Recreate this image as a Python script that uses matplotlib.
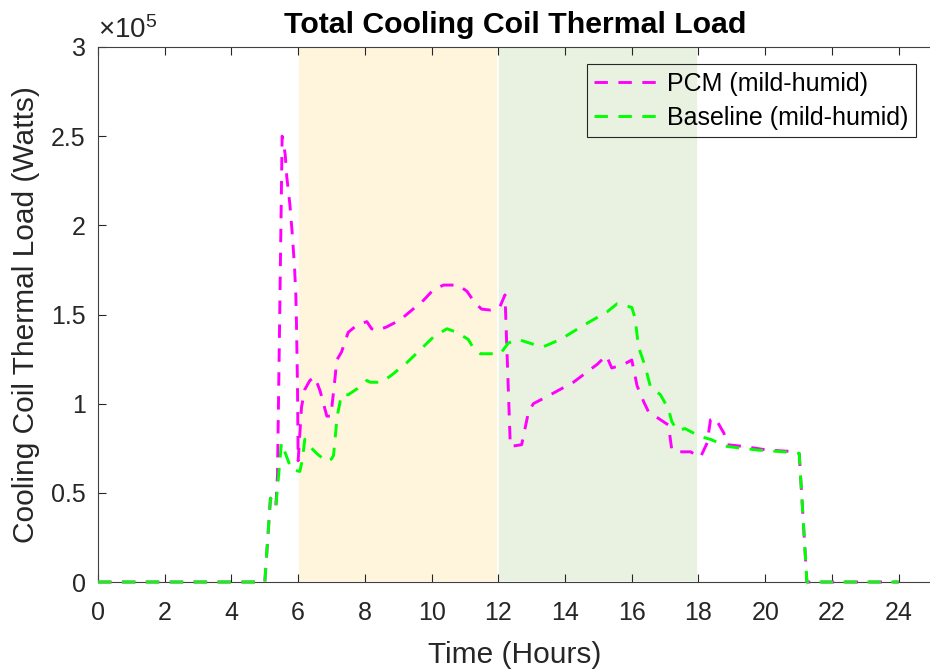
import matplotlib
matplotlib.use("Agg")
import matplotlib.pyplot as plt
from matplotlib.ticker import FuncFormatter, MultipleLocator

plt.rcParams['font.family'] = ['Liberation Sans', 'DejaVu Sans']
plt.rcParams['mathtext.fontset'] = 'custom'
plt.rcParams['mathtext.rm'] = 'Liberation Sans'
plt.rcParams['mathtext.it'] = 'Liberation Sans'

# ---- data (hours, load in units of 1e5 W) ----
pcm_t = [0, 5.0, 5.17, 5.33, 5.38, 5.44, 5.52, 5.61, 5.66, 5.75, 5.82, 5.89, 5.93, 5.95,
         5.98, 6.0, 6.1, 6.2, 6.35, 6.5, 6.66, 6.86, 6.98, 7.08, 7.16, 7.3, 7.5, 7.76,
         8.06, 8.2, 8.35, 8.65, 9.06, 9.41, 9.76, 10.06, 10.36, 10.8, 11.06, 11.3, 11.5,
         11.76, 12.04, 12.2, 12.36, 12.7, 12.9, 13.05, 13.56, 14.25, 14.96, 15.24, 15.4,
         15.76, 16.0, 16.16, 16.36, 16.5, 16.86, 17.1, 17.2, 17.36, 17.76, 18.06, 18.26,
         18.36, 18.5, 18.76, 18.86, 19.36, 20.06, 20.96, 21.02, 21.25, 24.0]
pcm_v = [0, 0, 0.47, 0.42, 0.60, 1.40, 2.50, 2.40, 2.27, 2.12, 1.96, 1.77, 1.61, 1.45,
         1.10, 0.68, 0.98, 1.08, 1.13, 1.15, 1.07, 0.93, 0.93, 1.10, 1.245, 1.29, 1.40, 1.44,
         1.46, 1.42, 1.41, 1.43, 1.47, 1.525, 1.58, 1.64, 1.665, 1.665, 1.63, 1.565, 1.53,
         1.525, 1.54, 1.61, 0.76, 0.77, 0.95, 1.00, 1.05, 1.12, 1.22, 1.27, 1.20,
         1.22, 1.245, 1.10, 1.01, 0.955, 0.91, 0.88, 0.74, 0.73, 0.73, 0.70, 0.78,
         0.91, 0.92, 0.835, 0.77, 0.76, 0.74, 0.73, 0.72, 0, 0]

base_t = [0, 5.0, 5.17, 5.33, 5.5, 5.8, 6.05, 6.12, 6.2, 6.35, 6.56, 6.86, 7.0, 7.06, 7.12,
          7.17, 7.3, 7.5, 7.9, 8.06, 8.16, 8.5, 8.8, 9.26, 10.06, 10.46, 10.76, 11.1, 11.26,
          11.46, 12.06, 12.3, 12.6, 13.1, 13.36, 13.86, 14.56, 15.26, 15.56, 16.0, 16.1,
          16.2, 16.4, 16.56, 16.86, 17.1, 17.2, 17.36, 17.6, 17.7, 18.06, 18.36, 18.86,
          19.76, 20.96, 21.02, 21.25, 24.0]
base_v = [0, 0, 0.47, 0.42, 0.78, 0.63, 0.62, 0.68, 0.80, 0.76, 0.72, 0.675, 0.69, 0.71, 0.83,
          0.93, 1.05, 1.05, 1.10, 1.13, 1.12, 1.12, 1.16, 1.23, 1.375, 1.42, 1.40, 1.36, 1.31,
          1.28, 1.28, 1.34, 1.36, 1.33, 1.32, 1.36, 1.44, 1.515, 1.56, 1.54, 1.48,
          1.32, 1.21, 1.095, 1.05, 0.97, 0.90, 0.85, 0.86, 0.85, 0.815, 0.80, 0.76,
          0.74, 0.725, 0.72, 0, 0]

scale = 1e5
pcm_w = [v * scale for v in pcm_v]
base_w = [v * scale for v in base_v]

shade_spans = [(6, 12), (12, 18)]
shade_colors = ['#FEF5DC', '#E9F1E1']
x_ticks = list(range(0, 25, 2))
labels = ['PCM (mild-humid)', 'Baseline (mild-humid)']

W, H = 930, 671
fig = plt.figure(figsize=(W / 100, H / 100), dpi=100)
ax = fig.add_axes([98 / W, (H - 582) / H, 834 / W, 535 / H])

for (a, b), c in zip(shade_spans, shade_colors):
    ax.axvspan(a, b, facecolor=c, edgecolor='white', linewidth=1.2, zorder=0)

dash = (4.6, 3.6)
ax.plot(pcm_t, pcm_w, color='#FF00FF', lw=2.1, dashes=dash, label=labels[0],
        zorder=3, clip_on=False)
ax.plot(base_t, base_w, color='#00FF00', lw=2.1, dashes=dash, label=labels[1],
        zorder=4, clip_on=False)

ax.set_xlim(0, 25)
ax.set_ylim(0, 3e5)
ax.set_xticks(x_ticks)
ax.yaxis.set_major_locator(MultipleLocator(0.5e5))


def yfmt(v, pos):
    return f"{v / scale:g}"


ax.yaxis.set_major_formatter(FuncFormatter(yfmt))

tc = '#262626'
for sp in ax.spines.values():
    sp.set_color('#404040')
    sp.set_linewidth(0.8)
ax.spines['right'].set_visible(False)
ax.tick_params(axis='both', direction='in', length=6, width=0.8, colors=tc,
               labelsize=18, top=True, right=False)
ax.tick_params(axis='x', pad=14)
ax.tick_params(axis='y', pad=9)

ax.set_xlabel('Time (Hours)', fontsize=21.5, color=tc, labelpad=11)
ax.set_ylabel('Cooling Coil Thermal Load (Watts)', fontsize=21.5, color=tc, labelpad=8)
ax.set_title('Total Cooling Coil Thermal Load', fontsize=21.8, fontweight='bold', pad=10)

ax.text(0.0, 1.0 + 9 / 535, '×$10^{5}$', transform=ax.transAxes, fontsize=20, color=tc,
        ha='left', va='baseline')

leg = ax.legend(loc='upper right', bbox_to_anchor=(0.981, 0.968), borderaxespad=0,
                fontsize=18, frameon=True, fancybox=False, framealpha=1,
                handlelength=2.8, handletextpad=0.12, borderpad=0.3, labelspacing=0.4)
leg.get_frame().set_facecolor('none')
leg.get_frame().set_edgecolor('#262626')
leg.get_frame().set_linewidth(0.8)

fig.savefig('out.png', dpi=100)
